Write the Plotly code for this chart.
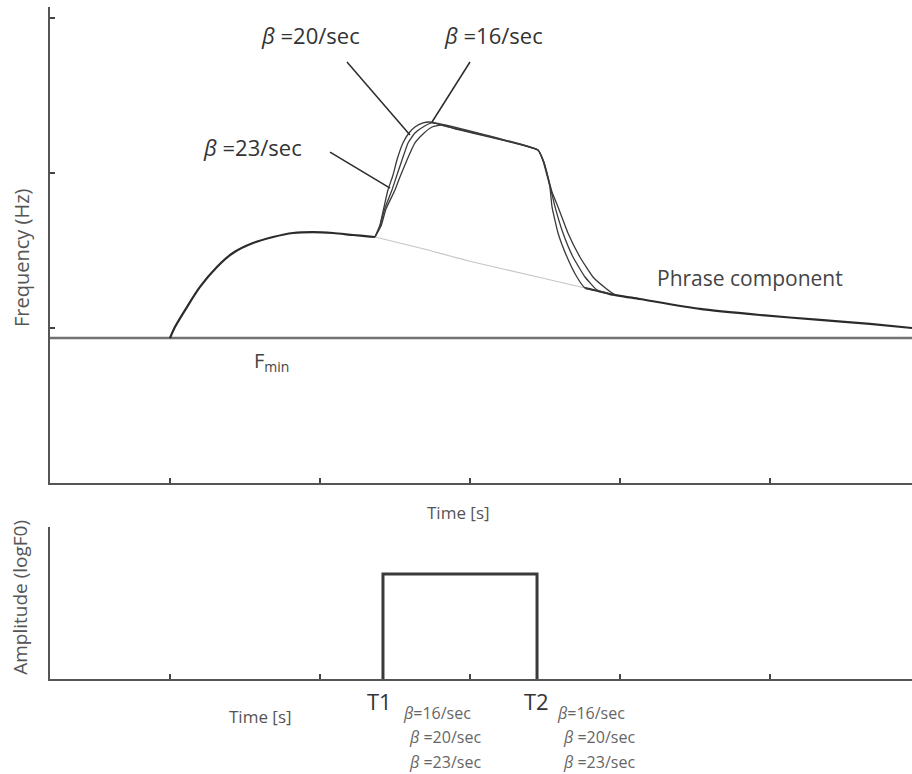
import plotly.graph_objects as go

# ---------------- data (time in arbitrary units, frequency in arbitrary units) -------------
time_ticks = [1, 2, 3, 4, 5]
freq_ticks = [1, 2, 3]
amp_ticks = [1]
x_range = [0.2, 5.947]
y_range = [0, 3.071]
amp_range = [0, 1]

fmin = 0.935

# rising part of the phrase component (before T1)
base_t = [1.0, 1.033, 1.113, 1.2, 1.313, 1.42, 1.553, 1.687, 1.82, 1.953, 2.087, 2.22, 2.333, 2.367]
base_f = [0.935, 1.006, 1.135, 1.265, 1.394, 1.484, 1.548, 1.587, 1.613, 1.619, 1.613, 1.6, 1.59, 1.587]

# phrase component hidden under the accent (light grey)
phr_t = [2.367, 2.667, 3.02, 3.453, 3.767]
phr_f = [1.587, 1.516, 1.426, 1.329, 1.258]

# phrase component tail after the accent
tail_t = [3.767, 3.853, 3.933, 4.133, 4.533, 4.933, 5.333, 5.667, 5.947]
tail_f = [1.258, 1.239, 1.219, 1.187, 1.123, 1.084, 1.052, 1.026, 1.0]

# accent curves for the three beta values
b23_t = [2.367, 2.4, 2.427, 2.453, 2.487, 2.513, 2.553, 2.593, 2.633, 2.687, 2.733,
         3.453, 3.487, 3.513, 3.533, 3.547, 3.587, 3.647, 3.713, 3.767, 3.853, 3.933]
b23_f = [1.587, 1.665, 1.781, 1.89, 1.987, 2.084, 2.194, 2.258, 2.297, 2.323, 2.329,
         2.148, 2.084, 2.0, 1.91, 1.781, 1.613, 1.458, 1.329, 1.258, 1.239, 1.219]

b20_t = [2.367, 2.4, 2.433, 2.48, 2.513, 2.547, 2.587, 2.633, 2.687, 2.747, 2.833,
         3.453, 3.487, 3.513, 3.54, 3.567, 3.62, 3.687, 3.767, 3.847, 3.933]
b20_f = [1.587, 1.658, 1.774, 1.89, 1.987, 2.084, 2.194, 2.258, 2.297, 2.323, 2.303,
         2.148, 2.077, 1.987, 1.89, 1.781, 1.613, 1.458, 1.329, 1.245, 1.219]

b16_t = [2.367, 2.407, 2.44, 2.5, 2.533, 2.58, 2.633, 2.687, 2.747, 2.82, 2.9,
         3.453, 3.493, 3.52, 3.547, 3.587, 3.653, 3.733, 3.82, 3.92, 3.967]
b16_f = [1.587, 1.658, 1.768, 1.89, 1.974, 2.084, 2.194, 2.252, 2.297, 2.31, 2.284,
         2.148, 2.071, 1.974, 1.877, 1.781, 1.613, 1.458, 1.329, 1.245, 1.213]

# accent command (bottom panel)
T1 = 2.42
T2 = 3.447
accent_amp = 0.69

# labels
beta_labels = ["β =16/sec", "β =20/sec", "β =23/sec"]
# leader lines: (label end x, label end y, tip x, tip y)
lead_20 = (2.18, 2.716, 2.6, 2.245)
lead_16 = (3.0, 2.716, 2.747, 2.329)
lead_23 = (2.067, 2.135, 2.467, 1.903)

FONT = "Open Sans"
DARK = "#2b2b2b"
AXIS = "#555555"

fig = go.Figure()

def line(x, y, color=DARK, width=1.8, xa="x", ya="y", shape="linear", smooth=None):
    ln = dict(color=color, width=width, shape=shape)
    if smooth is not None:
        ln["smoothing"] = smooth
    fig.add_trace(go.Scatter(x=x, y=y, mode="lines", xaxis=xa, yaxis=ya, line=ln,
                             showlegend=False, hoverinfo="skip"))

# Fmin line
line(x_range, [fmin, fmin], color="#727272", width=2.5)
# phrase component
line(phr_t, phr_f, color="#c6c6c6", width=1.2, shape="spline", smooth=0.6)
line(base_t, base_f, color=DARK, width=2.2, shape="spline", smooth=0.8)
line(tail_t, tail_f, color=DARK, width=2.2, shape="spline", smooth=0.6)
# accents
for bt, bf in ((b16_t, b16_f), (b20_t, b20_f), (b23_t, b23_f)):
    line(bt, bf, color="#3a3a3a", width=1.3, shape="spline", smooth=0.4)

# leader lines
for l in (lead_20, lead_16, lead_23):
    line([l[0], l[2]], [l[1], l[3]], color=DARK, width=1.5)

# accent command rectangle
line([T1, T1, T2, T2], [0, accent_amp, accent_amp, 0], color="#3a3a3a", width=3, xa="x2", ya="y2")

ann = []
def btext(s):
    return "<i>β</i>" + s[1:]

def label(text, tx, ty):
    ann.append(dict(x=tx, y=ty, xref="x", yref="y", showarrow=False, text=text,
                    font=dict(family=FONT, size=22, color="#333"), xanchor="center", yanchor="middle"))

label(btext(beta_labels[1]), 1.94, 2.89)
label(btext(beta_labels[0]), 3.16, 2.89)
label(btext(beta_labels[2]), 1.553, 2.168)

ann.append(dict(x=4.867, y=1.323, xref="x", yref="y", showarrow=False, text="Phrase component",
                font=dict(family=FONT, size=21, color="#444"), xanchor="center", yanchor="middle"))
ann.append(dict(x=1.547, y=0.781, xref="x", yref="y", showarrow=False, text="F<sub>min</sub>",
                font=dict(family=FONT, size=20, color="#444"), xanchor="left", yanchor="middle"))

# axis titles as paper annotations
ann.append(dict(x=-0.0325, y=0.668, xref="paper", yref="paper", showarrow=False, text="Frequency (Hz)",
                textangle=-90, font=dict(family=FONT, size=20, color="#555"), xanchor="center", yanchor="middle"))
ann.append(dict(x=-0.035, y=0.2287, xref="paper", yref="paper", showarrow=False, text="Amplitude (logF0)",
                textangle=-90, font=dict(family=FONT, size=19, color="#555"), xanchor="center", yanchor="middle"))
ann.append(dict(x=(458 - 50) / 862, y=1 - 512 / 774, xref="paper", yref="paper", showarrow=False, text="Time [s]",
                font=dict(family=FONT, size=17, color="#555"), xanchor="center", yanchor="middle"))
ann.append(dict(x=(260 - 50) / 862, y=1 - 716 / 774, xref="paper", yref="paper", showarrow=False, text="Time [s]",
                font=dict(family=FONT, size=17, color="#555"), xanchor="center", yanchor="middle"))

ann.append(dict(x=T1 - 0.02, y=1 - 701 / 774, xref="x2", yref="paper", showarrow=False, text="T1",
                font=dict(family=FONT, size=22, color="#333"), xanchor="center", yanchor="middle"))
ann.append(dict(x=T2 - 0.005, y=1 - 701 / 774, xref="x2", yref="paper", showarrow=False, text="T2",
                font=dict(family=FONT, size=22, color="#333"), xanchor="center", yanchor="middle"))

rows_y = [713, 737, 762]
for i, (lab, dx) in enumerate(zip(beta_labels, [0.12, 0.16, 0.16])):
    txt = btext(lab).replace(" ", "") if i == 0 else btext(lab)
    for base in (T1, T2):
        ann.append(dict(x=base + dx, y=1 - rows_y[i] / 774, xref="x2", yref="paper", showarrow=False,
                        text=txt, font=dict(family=FONT, size=16, color="#666"),
                        xanchor="left", yanchor="middle"))

axis_common = dict(showgrid=False, zeroline=False, showline=True, linecolor=AXIS, linewidth=2,
                   ticks="inside", ticklen=5, tickwidth=1.5, tickcolor="#444", showticklabels=False)

fig.update_layout(
    width=912, height=774,
    margin=dict(l=50, r=0, t=0, b=0),
    paper_bgcolor="white", plot_bgcolor="white",
    xaxis=dict(domain=[0, 1], range=x_range, tickvals=time_ticks, anchor="y", **axis_common),
    yaxis=dict(domain=[1 - 483 / 774, 1 - 7 / 774], range=y_range, tickvals=freq_ticks, anchor="x", **axis_common),
    xaxis2=dict(domain=[0, 1], range=x_range, tickvals=time_ticks, anchor="y2", **axis_common),
    yaxis2=dict(domain=[1 - 679 / 774, 1 - 527 / 774], range=amp_range, tickvals=amp_ticks, anchor="x2", **axis_common),
    annotations=ann,
)

fig.write_html("out.html")
